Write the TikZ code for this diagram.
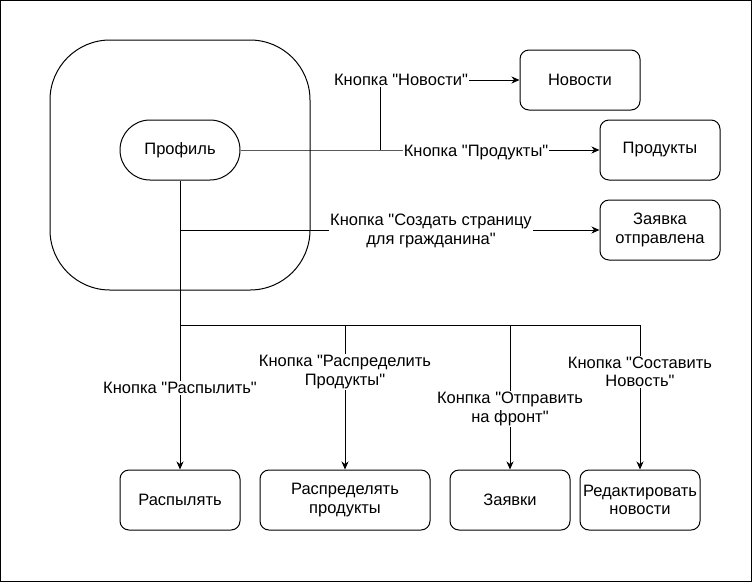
\documentclass[tikz,border=0pt]{standalone}
\usepackage{fontspec}
% plain family: no TeX ligature mapping, so " stays a straight quote
\newfontfamily\labelfont{Liberation Sans}
\usetikzlibrary{arrows.meta}
\begin{document}
\begin{tikzpicture}[x=1pt,y=-1pt,
  font=\labelfont\fontsize{16.5pt}{18.5pt}\selectfont,
  line width=1pt,
  box/.style={draw,rounded corners=9pt,minimum width=120pt,minimum height=60pt,align=center,inner sep=1pt},
  lbl/.style={fill=white,inner sep=1pt,align=center},
  arr/.style={-{Stealth[length=8pt,width=7pt,inset=2.5pt]}}]
\useasboundingbox (0,0) rectangle (752,582);
\draw (0.5,0.5) rectangle (751,581);

% container and start node
\node[draw,rounded corners=60pt,minimum width=260pt,minimum height=250pt] (area) at (180,165) {};
\node[draw,rounded corners=30pt,minimum width=120pt,minimum height=60pt] (prof) at (180,150) {Профиль};

% targets on the right
\node[box] (nov) at (580,80) {Новости};
\node[box] (prod) at (660,150) {Продукты};
\node[box] (zay) at (660,230) {Заявка\\отправлена};

% targets at the bottom
\node[box] (rasp) at (180,500) {Распылять};
\node[box,minimum width=170pt] (distr) at (345,500) {Распределять\\продукты};
\node[box] (zayv) at (510,500) {Заявки};
\node[box] (red) at (640,500) {Редактировать\\новости};

% junctions
\coordinate (j1) at (380,150);
\coordinate (j2) at (180,230);
\coordinate (b0) at (180,325);
\coordinate (b1) at (345,325);
\coordinate (b2) at (510,325);
\coordinate (b3) at (640,325);

% right branches
\draw[arr] (prof.east) -- (j1) -- (prod.west);
\draw[arr] (j1) |- (nov.west);
\draw[arr] (j2) -- (zay.west);

% vertical trunk and bottom bus
\draw (prof.south) -- (b0) -- (b3);
\draw[arr] (b0) -- (rasp.north);
\draw[arr] (b1) -- (distr.north);
\draw[arr] (b2) -- (zayv.north);
\draw[arr] (b3) -- (red.north);

% edge labels
\node[lbl] (l1) at (401,80) {Кнопка "Новости"};
\node[lbl] (l2) at (476,153) {Кнопка "Продукты"};
\node[lbl] (l3) at (431,231) {Кнопка "Создать страницу\\для гражданина"};
\node[lbl] (l4) at (180,388) {Кнопка "Распылить"};
\node[lbl] (l5) at (345,372) {Кнопка "Распределить\\Продукты"};
\node[lbl] (l6) at (510,409) {Конпка "Отправить\\на фронт"};
\node[lbl] (l7) at (640,372) {Кнопка "Составить\\Новость"};
\end{tikzpicture}
\end{document}
